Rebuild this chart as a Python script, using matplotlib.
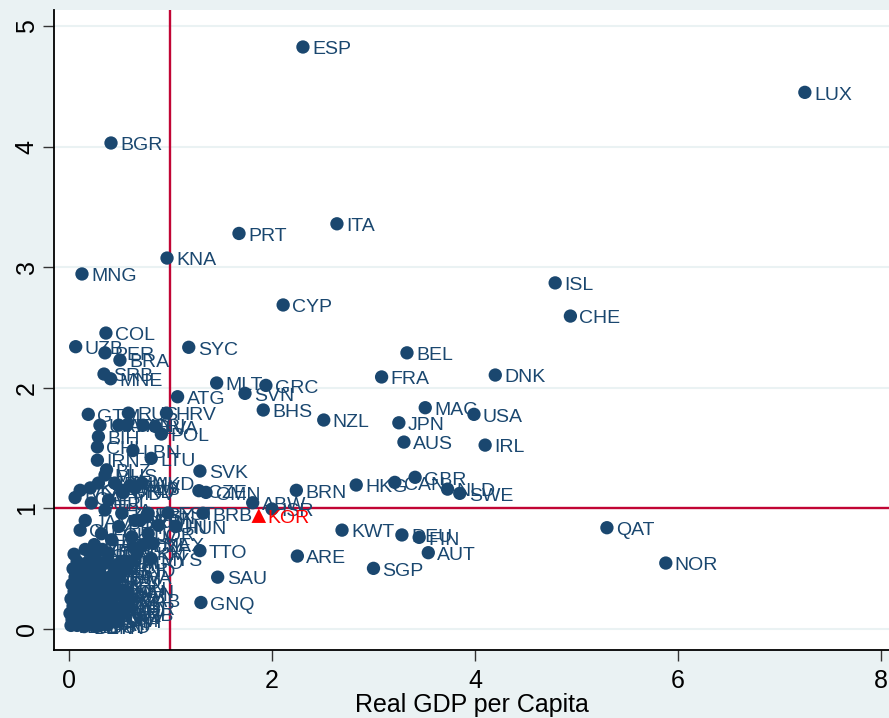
import matplotlib
matplotlib.use("Agg")
import matplotlib.pyplot as plt
from matplotlib import font_manager

# GDP per capita vs. ratio, country codes as labels (KOR highlighted)
labeled = [
    ("ESP", 2.305, 4.826), ("LUX", 7.25, 4.45), ("BGR", 0.414, 4.03),
    ("PRT", 1.675, 3.28), ("ITA", 2.64, 3.36), ("KNA", 0.966, 3.076),
    ("MNG", 0.128, 2.944), ("ISL", 4.79, 2.87), ("CHE", 4.94, 2.595),
    ("CYP", 2.11, 2.687), ("COL", 0.364, 2.454), ("UZB", 0.066, 2.341),
    ("PER", 0.355, 2.29), ("BRA", 0.502, 2.23), ("SRB", 0.345, 2.114),
    ("MNE", 0.41, 2.075), ("SYC", 1.18, 2.336), ("BEL", 3.33, 2.29),
    ("FRA", 3.08, 2.09), ("DNK", 4.20, 2.106), ("MLT", 1.455, 2.04),
    ("GRC", 1.94, 2.02), ("SVN", 1.734, 1.954), ("ATG", 1.07, 1.926),
    ("BHS", 1.914, 1.816), ("NZL", 2.51, 1.733), ("MAC", 3.51, 1.835),
    ("USA", 3.99, 1.78), ("JPN", 3.25, 1.71), ("AUS", 3.30, 1.55),
    ("IRL", 4.10, 1.525), ("SVK", 1.29, 1.31), ("CZE", 1.28, 1.147),
    ("OMN", 1.35, 1.133), ("ABW", 1.81, 1.047), ("ISR", 2.0, 0.995),
    ("BRN", 2.24, 1.15), ("BRB", 1.32, 0.96), ("EST", 0.975, 0.962),
    ("HKG", 2.83, 1.194), ("CAN", 3.21, 1.216), ("GBR", 3.41, 1.258),
    ("NLD", 3.73, 1.16), ("SWE", 3.85, 1.125), ("KWT", 2.69, 0.82),
    ("DEU", 3.28, 0.78), ("FIN", 3.45, 0.76), ("AUT", 3.54, 0.633),
    ("SGP", 3.0, 0.503), ("QAT", 5.30, 0.84), ("NOR", 5.88, 0.547),
    ("ARE", 2.25, 0.605), ("TTO", 1.29, 0.65), ("SAU", 1.465, 0.43),
    ("GNQ", 1.30, 0.22),
    # middle-income group left of the x=1 line
    ("GTM", 0.19, 1.78), ("RUS", 0.585, 1.79), ("HRV", 0.96, 1.79),
    ("URY", 0.305, 1.69), ("ARG", 0.49, 1.69), ("PAN", 0.57, 1.69),
    ("CRI", 0.73, 1.69), ("LVA", 0.85, 1.68), ("POL", 0.91, 1.617),
    ("BIH", 0.29, 1.595), ("CHL", 0.28, 1.51), ("LBN", 0.63, 1.48),
    ("LTU", 0.81, 1.415), ("IRN", 0.28, 1.40), ("BLZ", 0.37, 1.32),
    ("MUS", 0.355, 1.277), ("TUR", 0.29, 1.21), ("KAZ", 0.21, 1.17),
    ("VCT", 0.11, 1.15), ("LCA", 0.06, 1.09), ("DMA", 0.45, 1.21),
    ("GRD", 0.52, 1.15), ("ALB", 0.65, 1.17), ("MKD", 0.72, 1.21),
    ("PLW", 0.60, 1.19), ("MDV", 0.535, 1.13), ("SUR", 0.22, 1.045),
    ("FJI", 0.39, 1.07), ("THA", 0.355, 0.987), ("JAM", 0.16, 0.90),
    ("ZAF", 0.52, 0.96), ("DOM", 0.65, 0.90), ("LBY", 0.78, 0.96),
    ("GUY", 0.11, 0.82), ("ECU", 0.32, 0.79), ("PRY", 0.49, 0.85),
    ("SLV", 0.62, 0.765), ("JOR", 0.78, 0.79), ("TUN", 0.88, 0.86),
    ("HUN", 1.05, 0.85), ("IRQ", 0.70, 0.90), ("VEN", 0.765, 0.93),
    ("MEX", 0.83, 0.71), ("DZA", 0.73, 0.70), ("MYS", 0.81, 0.585),
    ("TKM", 0.67, 0.63), ("EGY", 0.63, 0.68), ("IDN", 0.39, 0.63),
    ("PHL", 0.50, 0.545), ("BWA", 0.50, 0.43), ("GAB", 0.60, 0.24),
    ("MAR", 0.25, 0.70), ("LKA", 0.42, 0.74), ("AZE", 0.16, 0.66),
    ("GEO", 0.05, 0.62),
    # low-income cluster near the origin
    ("AFG", 0.02, 0.03), ("BDI", 0.08, 0.03), ("BEN", 0.15, 0.02),
    ("BFA", 0.22, 0.04), ("BGD", 0.30, 0.03), ("CAF", 0.38, 0.05),
    ("CIV", 0.03, 0.08), ("CMR", 0.10, 0.09), ("COD", 0.18, 0.07),
    ("COG", 0.26, 0.09), ("COM", 0.34, 0.08), ("CPV", 0.45, 0.10),
    ("DJI", 0.01, 0.13), ("ERI", 0.07, 0.14), ("ETH", 0.14, 0.12),
    ("GHA", 0.21, 0.14), ("GIN", 0.29, 0.13), ("GMB", 0.37, 0.15),
    ("GNB", 0.52, 0.13), ("HTI", 0.04, 0.19), ("IND", 0.11, 0.20),
    ("KEN", 0.19, 0.18), ("KGZ", 0.27, 0.19), ("KHM", 0.35, 0.21),
    ("LAO", 0.44, 0.19), ("LBR", 0.58, 0.18), ("LSO", 0.02, 0.25),
    ("MDG", 0.09, 0.26), ("MLI", 0.16, 0.24), ("MMR", 0.24, 0.26),
    ("MOZ", 0.32, 0.25), ("MRT", 0.41, 0.27), ("MWI", 0.50, 0.29),
    ("NER", 0.05, 0.31), ("NGA", 0.12, 0.32), ("NPL", 0.20, 0.30),
    ("PAK", 0.28, 0.33), ("RWA", 0.37, 0.31), ("SDN", 0.46, 0.34),
    ("SEN", 0.55, 0.32), ("SLE", 0.03, 0.37), ("SLB", 0.10, 0.38),
    ("SOM", 0.17, 0.36), ("STP", 0.26, 0.39), ("SYR", 0.34, 0.37),
    ("TCD", 0.43, 0.39), ("TGO", 0.06, 0.43), ("TJK", 0.14, 0.44),
    ("TZA", 0.22, 0.42), ("UGA", 0.31, 0.45), ("VNM", 0.40, 0.43),
    ("YEM", 0.04, 0.50), ("ZMB", 0.13, 0.49), ("ZWE", 0.21, 0.51),
    ("PNG", 0.30, 0.50), ("NIC", 0.45, 0.52), ("HND", 0.55, 0.49),
    ("BOL", 0.08, 0.56), ("UKR", 0.18, 0.55), ("MDA", 0.27, 0.57),
    ("ARM", 0.37, 0.56), ("AGO", 0.62, 0.56), ("VUT", 0.48, 0.07),
    ("KIR", 0.55, 0.23), ("TLS", 0.12, 0.05), ("SWZ", 0.40, 0.12),
    ("BTN", 0.27, 0.02), ("CHN", 0.23, 0.62), ("CUB", 0.33, 0.66),
]

kor = ("KOR", 1.87, 0.94)

xticks = [0, 2, 4, 6, 8]
yticks = [0, 1, 2, 3, 4, 5]

navy = "#1a476f"
bg = "#eaf2f3"
refred = "#c10534"

avail = {f.name for f in font_manager.fontManager.ttflist}
narrow = "Liberation Sans Narrow" if "Liberation Sans Narrow" in avail else "Liberation Sans"

fig = plt.figure(figsize=(8.89, 7.18), dpi=100, facecolor=bg)
ax = fig.add_axes([0.0607, 0.0947, 0.9393, 0.8914])
ax.set_facecolor("white")

ax.set_xlim(-0.148, 8.079)
ax.set_ylim(-0.174, 5.133)

for y in yticks:
    ax.axhline(y, color=bg, lw=1.5, zorder=0)

ax.axvline(1, color=refred, lw=1.7, zorder=1)
ax.axhline(1, color=refred, lw=1.7, zorder=1)

names = [c[0] for c in labeled]
xs = [c[1] for c in labeled]
ys = [c[2] for c in labeled]
ax.scatter(xs, ys, s=92, color=navy, edgecolors="none", zorder=3)
for n, x, y in labeled:
    ax.annotate(n, (x, y), xytext=(6.5, -2), textcoords="offset points",
                ha="left", va="center", fontsize=14, color=navy,
                family="Liberation Sans", zorder=4)

ax.scatter([kor[1]], [kor[2]], s=110, marker="^", color="#ff0000",
           edgecolors="none", zorder=5)
ax.annotate(kor[0], (kor[1], kor[2]), xytext=(6.5, -2), textcoords="offset points",
            ha="left", va="center", fontsize=14, color="#ff0000",
            family="Liberation Sans", zorder=6)

ax.set_xticks(xticks)
ax.set_yticks(yticks)
ax.set_xticklabels([str(t) for t in xticks], fontsize=18, family=narrow)
ax.set_yticklabels([str(t) for t in yticks], fontsize=18, family=narrow,
                   rotation=90, va="center")
ax.tick_params(axis="x", direction="out", length=8, width=1, color="#333333", pad=6)
ax.tick_params(axis="y", direction="out", length=8, width=1, color="#333333", pad=3)
ax.set_xlabel("Real GDP per Capita", fontsize=18, family=narrow, labelpad=0)

for s in ["top", "right"]:
    ax.spines[s].set_visible(False)
for s in ["left", "bottom"]:
    ax.spines[s].set_linewidth(1.3)
    ax.spines[s].set_color("black")

fig.savefig("out.png", dpi=100, facecolor=bg)
